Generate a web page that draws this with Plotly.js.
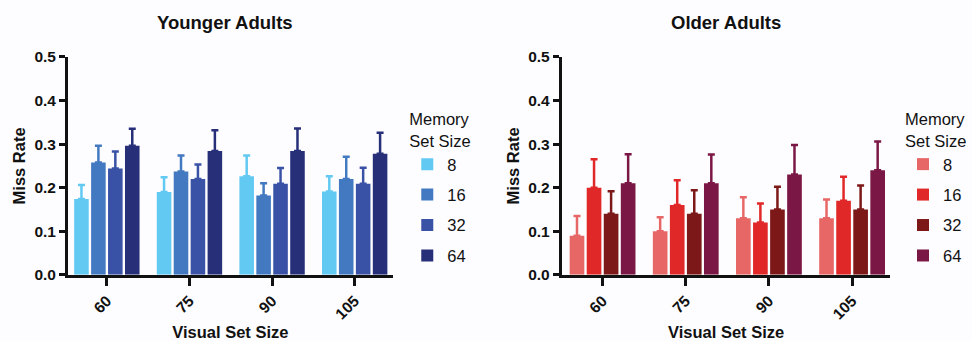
<!DOCTYPE html>
<html>
<head>
<meta charset="utf-8">
<script src="https://cdn.plot.ly/plotly-3.0.1.min.js"></script>
<style>html,body{margin:0;padding:0;background:#fff;}#chart{width:972px;height:341px;}</style>
</head>
<body>
<div id="chart"></div>
<script>
// Categories (Visual Set Size)
const visualSetSize = ["60", "75", "90", "105"];
// Memory set sizes (legend)
const memorySetSize = ["8", "16", "32", "64"];

// Younger adults: means and upper error bar lengths
const youngMean8  = [0.174, 0.190, 0.226, 0.191];
const youngMean16 = [0.258, 0.237, 0.182, 0.220];
const youngMean32 = [0.244, 0.220, 0.209, 0.209];
const youngMean64 = [0.296, 0.284, 0.284, 0.278];
const youngErr8   = [0.032, 0.034, 0.048, 0.035];
const youngErr16  = [0.038, 0.037, 0.028, 0.051];
const youngErr32  = [0.039, 0.033, 0.036, 0.037];
const youngErr64  = [0.039, 0.048, 0.052, 0.048];

// Older adults
const oldMean8  = [0.09, 0.10, 0.13, 0.13];
const oldMean16 = [0.20, 0.16, 0.12, 0.17];
const oldMean32 = [0.14, 0.14, 0.15, 0.15];
const oldMean64 = [0.21, 0.21, 0.23, 0.24];
const oldErr8   = [0.045, 0.032, 0.048, 0.043];
const oldErr16  = [0.065, 0.057, 0.044, 0.055];
const oldErr32  = [0.052, 0.054, 0.052, 0.055];
const oldErr64  = [0.067, 0.066, 0.068, 0.066];

const youngColors = ["#62c9f2", "#4279c0", "#3a52a6", "#262f78"];
const oldColors   = ["#e76767", "#e12828", "#7d1818", "#7b1745"];

const FONT = "Liberation Sans, Arial, Helvetica, sans-serif";

const youngMeans = [youngMean8, youngMean16, youngMean32, youngMean64];
const youngErrs  = [youngErr8, youngErr16, youngErr32, youngErr64];
const oldMeans = [oldMean8, oldMean16, oldMean32, oldMean64];
const oldErrs  = [oldErr8, oldErr16, oldErr32, oldErr64];

const traces = [];
memorySetSize.forEach((m, i) => {
  traces.push({
    type: "bar", x: visualSetSize, y: youngMeans[i], name: m,
    xaxis: "x", yaxis: "y", legend: "legend", legendgroup: "y" + m,
    marker: {color: youngColors[i], line: {width: 0}},
    error_y: {type: "data", array: youngErrs[i], arrayminus: youngErrs[i].map(() => 0),
              symmetric: false, color: youngColors[i], thickness: 2.5, width: 3.5}
  });
});
memorySetSize.forEach((m, i) => {
  traces.push({
    type: "bar", x: visualSetSize, y: oldMeans[i], name: m,
    xaxis: "x2", yaxis: "y2", legend: "legend2", legendgroup: "o" + m,
    marker: {color: oldColors[i], line: {width: 0}},
    error_y: {type: "data", array: oldErrs[i], arrayminus: oldErrs[i].map(() => 0),
              symmetric: false, color: oldColors[i], thickness: 2.5, width: 3.5}
  });
});

const tickFont = {family: FONT, size: 15.5, color: "#111", weight: "bold"};
const titleFont = {family: FONT, size: 16.5, color: "#111", weight: "bold"};

function xAxis(domain, range, anchor) {
  return {
    domain: domain, anchor: anchor, type: "category", range: range,
    showline: true, linecolor: "#111", linewidth: 3,
    ticks: "outside", ticklen: 8, tickwidth: 3, tickcolor: "#111",
    tickangle: -45, tickfont: tickFont, showgrid: false, zeroline: false,
    title: {text: "Visual Set Size", font: titleFont, standoff: 8}
  };
}
function yAxis(anchor) {
  return {
    domain: [0.194, 0.833], anchor: anchor, range: [0, 0.5],
    tickvals: [0, 0.1, 0.2, 0.3, 0.4, 0.5], ticktext: ["0.0", "0.1", "0.2", "0.3", "0.4", "0.5"],
    showline: true, linecolor: "#111", linewidth: 3,
    ticks: "outside", ticklen: 6, tickwidth: 3, tickcolor: "#111",
    tickfont: tickFont, showgrid: false, zeroline: false,
    title: {text: "Miss Rate", font: titleFont, standoff: 5}
  };
}

const legendCommon = {
  font: {family: FONT, size: 16.5, color: "#111"},
  title: {text: "Memory<br>Set Size", font: {family: FONT, size: 16.5, color: "#111"}},
  tracegroupgap: 6, bgcolor: "rgba(0,0,0,0)", yanchor: "top", xanchor: "left",
  itemclick: false
};

const layout = {
  width: 972, height: 341,
  margin: {l: 0, r: 0, t: 0, b: 0},
  paper_bgcolor: "#fdfdff", plot_bgcolor: "#fdfdff",
  barmode: "group", bargap: 0.18, bargroupgap: 0.14,
  font: {family: FONT},
  xaxis: xAxis([0.070, 0.404], [-0.47, 3.46], "y"),
  yaxis: yAxis("x"),
  xaxis2: xAxis([0.578, 0.916], [-0.49, 3.46], "y2"),
  yaxis2: yAxis("x2"),
  legend: Object.assign({x: 0.419, y: 0.695}, legendCommon),
  legend2: Object.assign({x: 0.929, y: 0.695}, legendCommon),
  annotations: [
    {text: "Younger Adults", xref: "paper", yref: "paper", x: 0.231, y: 0.935,
     xanchor: "center", yanchor: "middle", showarrow: false,
     font: {family: FONT, size: 18.5, color: "#111", weight: "bold"}},
    {text: "Older Adults", xref: "paper", yref: "paper", x: 0.747, y: 0.935,
     xanchor: "center", yanchor: "middle", showarrow: false,
     font: {family: FONT, size: 18.5, color: "#111", weight: "bold"}}
  ],
  showlegend: true
};

Plotly.newPlot("chart", traces, layout, {displayModeBar: false, staticPlot: true});
</script>
</body>
</html>
